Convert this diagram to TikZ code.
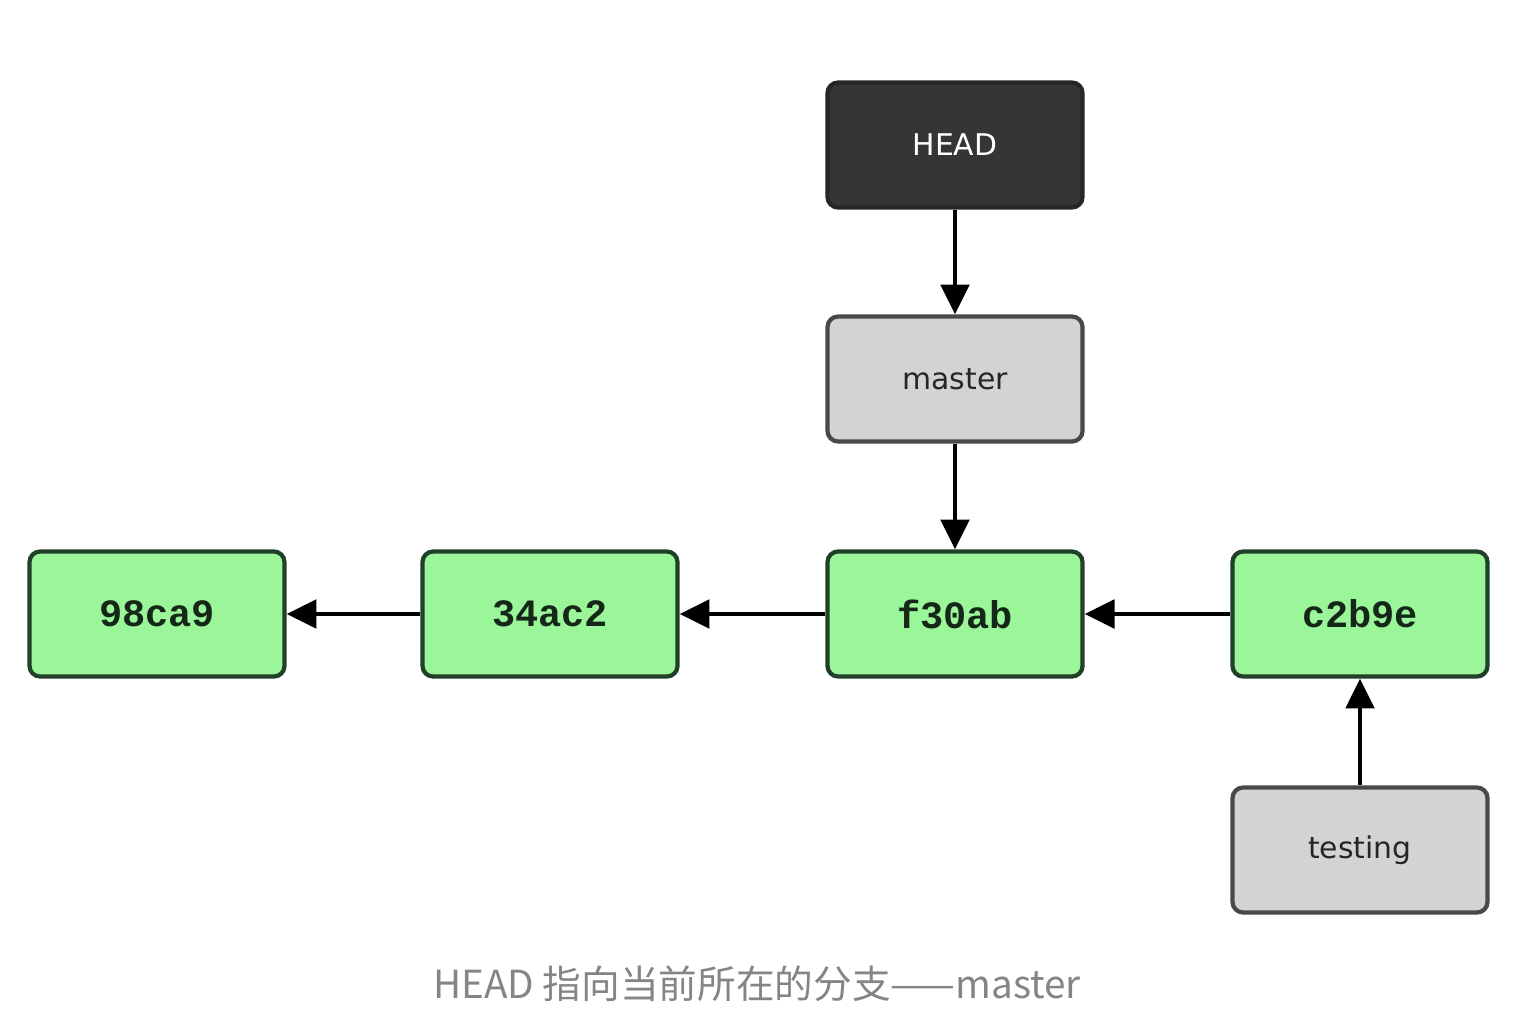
\documentclass[tikz,border=0pt]{standalone}
\usepackage{fontspec}
\setmainfont{DejaVu Sans}
\newfontfamily\hashfont{Liberation Mono}
\newfontfamily\cjk{Noto Sans CJK SC}
\usetikzlibrary{positioning,arrows.meta}
\tikzset{>={Triangle[length=17pt,width=16pt]}}
\definecolor{commitfill}{HTML}{9AF699}
\definecolor{commitedge}{HTML}{21402A}
\definecolor{branchfill}{HTML}{D1D4D3}
\definecolor{branchedge}{HTML}{474A49}
\definecolor{headfill}{HTML}{353535}
\definecolor{captiongray}{HTML}{858585}
\tikzset{
  box/.style={rounded corners=6pt,line width=2.4pt,inner sep=0pt,
    minimum width=5.1cm,minimum height=2.5cm},
  commit/.style={box,draw=commitedge,fill=commitfill,text=commitedge!60!black,
    font=\hashfont\bfseries\fontsize{22}{22}\selectfont},
  branch/.style={box,draw=branchedge,fill=branchfill,text=black!85,
    font=\fontsize{17}{17}\selectfont},
  headbox/.style={box,draw=black!85,fill=headfill,text=white,
    font=\fontsize{17}{17}\selectfont},
  link/.style={->,line width=2.8pt}
}

\begin{document}
\begin{tikzpicture}
\useasboundingbox (0,0) rectangle (30.52,-20.32);
% Draw the commits
\foreach \name/\x in {98ca9/3.14,34ac2/11.0,f30ab/19.1,c2b9e/27.2}
  \node[commit] (\name) at (\x,-12.28) {\raisebox{-3pt}{\name}};
% Draw the branches and HEAD
\node[headbox] (HEAD) at (19.1,-2.9) {HEAD};
\node[branch] (master) at (19.1,-7.58) {master};
\node[branch] (testing) at (27.2,-17.0) {testing};

% Draw the links
\draw[link] (34ac2) -- (98ca9);
\draw[link] (f30ab) -- (34ac2);
\draw[link] (c2b9e) -- (f30ab);
\draw[link] (HEAD) -- (master);
\draw[link] (master) -- (f30ab);
\draw[link] (testing) -- (c2b9e);

% Caption
\node[anchor=base,text=captiongray,font=\cjk\fontsize{22}{22}\selectfont]
  (caption) at (15.14,-19.96) {HEAD 指向当前所在的分支——master};
\end{tikzpicture}
\end{document}
